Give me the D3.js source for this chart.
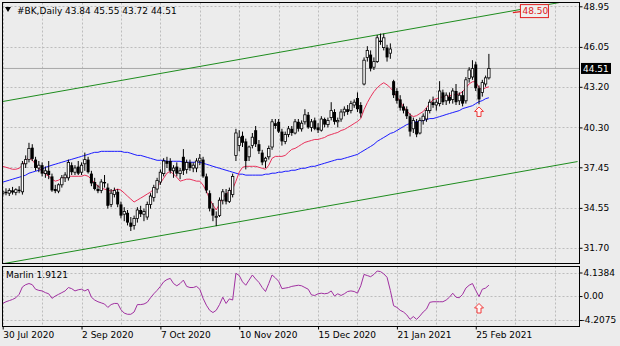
<!DOCTYPE html>
<html><head><meta charset="utf-8">
<script src="https://cdn.jsdelivr.net/npm/d3@7"></script>
<style>html,body{margin:0;padding:0;background:#ececec;overflow:hidden}svg{display:block;font-family:"DejaVu Sans",sans-serif}</style>
</head><body><svg id="c" width="620" height="346"></svg>
<script>
const open=[35.55,35.70,35.60,35.80,35.65,35.85,35.70,37.70,38.00,38.85,38.00,37.40,37.60,37.00,37.20,36.80,35.90,35.75,36.20,36.70,36.70,37.60,37.10,37.50,37.10,37.70,38.00,37.00,36.40,35.90,35.80,36.40,36.00,34.80,35.50,35.70,34.80,34.10,34.20,33.50,33.30,33.80,34.40,34.10,33.90,34.80,35.30,35.90,36.40,37.00,37.90,37.90,37.20,37.50,37.00,38.20,37.30,37.80,37.40,37.40,37.90,38.00,36.80,35.60,34.50,33.90,34.00,35.10,35.60,35.00,35.50,38.30,39.00,39.70,39.30,38.20,39.00,40.10,39.10,38.50,37.90,38.20,38.90,40.60,40.70,40.00,39.30,39.80,40.20,39.90,40.70,40.20,40.70,41.20,40.30,40.80,40.30,40.10,40.90,40.50,41.00,41.40,40.70,40.90,41.40,41.60,41.50,41.90,42.40,41.90,43.40,45.30,45.50,44.60,45.00,46.50,46.00,46.00,45.60,43.60,42.90,42.30,41.80,41.60,41.10,40.20,40.70,39.90,40.80,40.90,41.50,42.10,41.90,42.00,42.80,42.20,42.50,42.30,42.90,42.20,42.60,42.20,43.80,43.90,44.80,43.10,42.80,43.40,43.84];
const high=[35.85,35.95,35.95,36.05,35.95,36.10,37.90,38.30,39.20,39.10,38.20,37.90,37.80,37.50,37.90,37.00,36.20,36.30,36.90,37.10,38.00,37.80,37.60,37.90,37.80,38.50,38.20,37.20,36.70,36.20,36.60,36.90,36.30,35.90,36.00,35.90,35.00,34.60,34.40,33.90,34.00,34.60,34.70,34.50,35.00,35.60,36.20,36.70,37.30,38.10,38.20,38.10,37.60,37.80,37.40,38.75,38.00,38.00,37.80,38.10,38.40,38.20,37.00,35.80,34.90,34.30,35.30,35.90,35.90,36.00,37.00,40.20,40.10,40.00,39.50,39.00,39.90,40.40,39.40,38.70,38.20,39.00,40.90,40.90,40.90,40.20,40.00,40.40,40.40,40.90,40.90,40.80,41.60,41.40,40.90,41.00,40.60,41.10,41.00,41.00,42.10,41.60,41.00,41.60,41.80,41.90,42.20,42.30,42.80,42.10,45.30,46.10,45.80,45.30,46.90,47.00,47.00,46.20,46.30,43.70,43.10,42.60,42.00,41.80,41.30,41.00,40.90,41.00,41.30,41.70,42.30,42.50,42.30,43.60,43.00,42.80,42.80,43.10,43.40,42.80,42.90,43.90,44.60,45.10,45.00,43.30,43.70,44.00,45.55];
const low=[35.30,35.45,35.40,35.50,35.45,35.60,35.50,37.40,37.80,37.90,37.20,37.10,36.80,36.70,36.60,35.70,35.60,35.60,36.00,36.40,36.50,36.90,36.90,36.90,36.90,37.20,37.00,36.10,35.80,35.60,35.60,36.00,34.50,34.60,35.30,34.60,33.80,33.60,33.30,32.90,33.00,33.50,33.90,33.60,33.70,34.50,35.00,35.60,36.20,36.80,37.40,37.00,36.70,36.80,36.60,36.90,37.00,37.20,37.10,37.10,37.60,36.70,35.60,34.30,33.60,33.25,33.90,34.80,34.80,34.90,35.30,37.90,38.60,38.90,37.30,37.90,38.80,38.90,38.40,37.60,37.40,38.00,38.70,40.20,39.90,39.00,39.10,39.60,39.70,39.80,40.00,40.00,40.50,40.20,40.00,40.10,39.90,40.00,40.30,40.30,40.80,40.50,40.30,40.70,41.10,41.20,41.30,41.70,41.40,41.00,43.30,45.00,44.30,44.40,44.90,46.20,45.80,45.00,45.20,42.40,42.00,41.50,41.30,40.90,39.65,39.90,39.60,39.80,40.50,40.70,41.30,41.70,41.50,41.80,41.90,41.90,42.00,42.00,41.90,41.90,41.80,42.00,43.50,43.70,42.90,41.95,42.50,43.20,43.72];
const close=[35.70,35.60,35.80,35.65,35.85,35.75,37.70,38.00,38.80,38.05,37.40,37.60,37.00,37.20,36.90,35.80,35.75,36.20,36.70,36.90,37.80,37.10,37.40,37.00,37.60,38.00,37.10,36.30,35.90,35.75,36.40,36.30,34.70,35.60,35.80,34.80,34.00,34.30,33.50,33.20,33.80,34.40,34.10,34.30,34.80,35.40,36.00,36.50,37.10,37.90,37.70,37.20,37.40,37.00,37.20,37.20,37.80,37.40,37.60,37.90,38.10,36.80,35.80,34.50,34.00,33.95,35.10,35.70,35.00,35.80,36.80,39.90,39.60,39.20,37.90,38.90,39.60,39.10,38.60,37.80,38.10,38.80,40.70,40.40,40.00,39.30,39.80,40.20,39.90,40.70,40.20,40.60,41.20,40.30,40.70,40.20,40.10,40.90,40.50,40.80,41.50,40.70,40.80,41.40,41.60,41.40,42.00,42.10,41.60,41.30,45.10,45.80,44.50,45.00,46.70,46.40,46.70,45.30,45.90,42.60,42.20,41.70,41.50,41.10,40.00,40.80,39.80,40.80,41.10,41.50,42.10,41.90,42.10,42.90,42.10,42.60,42.20,42.90,42.10,42.60,42.00,43.70,44.40,44.50,43.10,42.30,43.50,43.84,44.51];
const maFast=[37.52,37.45,37.38,37.31,37.31,37.38,37.60,37.95,38.16,37.95,37.67,37.38,37.17,36.96,36.81,36.60,36.46,36.53,36.67,36.74,36.81,36.81,36.81,36.81,36.81,36.89,36.81,36.60,36.32,36.10,35.96,35.89,35.82,35.75,35.82,35.89,35.82,35.61,35.39,35.18,34.97,35.11,35.25,35.39,35.54,35.68,35.89,36.10,36.32,36.67,37.03,37.17,36.96,36.74,36.46,36.53,36.60,36.60,36.53,36.46,36.46,36.18,35.75,35.18,34.76,34.40,34.83,35.25,35.54,35.75,35.89,36.46,37.10,37.45,37.52,37.52,37.52,37.52,37.45,37.38,37.31,37.60,38.09,38.23,38.23,38.23,38.30,38.52,38.73,38.80,38.94,39.09,39.23,39.30,39.37,39.44,39.44,39.51,39.58,39.72,39.79,39.87,39.94,40.08,40.15,40.29,40.43,40.58,40.72,40.93,41.57,42.07,42.49,42.85,43.13,43.34,43.49,43.34,43.13,42.85,42.49,42.14,41.78,41.50,41.22,41.07,41.14,41.29,41.43,41.71,42.00,42.28,42.35,42.42,42.49,42.49,42.56,42.63,42.63,42.70,42.85,43.13,43.41,43.56,43.56,43.13,42.99,43.13,43.20];
const maSlow=[36.39,36.46,36.53,36.60,36.67,36.74,36.81,36.89,37.03,37.10,37.17,37.24,37.31,37.45,37.52,37.60,37.67,37.74,37.81,37.88,37.95,38.02,38.09,38.16,38.23,38.30,38.37,38.45,38.52,38.52,38.59,38.59,38.59,38.59,38.59,38.59,38.59,38.52,38.52,38.45,38.37,38.30,38.30,38.23,38.16,38.09,38.02,37.95,37.95,37.95,37.88,37.88,37.88,37.88,37.88,37.81,37.81,37.81,37.81,37.81,37.81,37.74,37.67,37.60,37.52,37.45,37.38,37.31,37.24,37.17,37.10,37.03,36.96,36.96,36.89,36.89,36.89,36.89,36.89,36.89,36.96,36.96,37.03,37.03,37.10,37.10,37.17,37.17,37.24,37.24,37.31,37.38,37.38,37.45,37.52,37.52,37.60,37.67,37.74,37.81,37.88,37.95,38.02,38.02,38.09,38.16,38.23,38.30,38.37,38.52,38.66,38.80,38.94,39.09,39.30,39.44,39.58,39.72,39.87,39.94,40.08,40.22,40.36,40.50,40.58,40.65,40.72,40.72,40.79,40.86,40.93,40.93,41.00,41.07,41.14,41.22,41.29,41.36,41.43,41.50,41.64,41.71,41.78,41.85,42.00,42.14,42.21,42.35,42.42];
const marlin=[-1.3,-1.0,-0.8,-0.6,-0.3,0.3,1.6,2.0,2.2,2.0,1.2,1.0,0.9,0.6,0.4,-0.4,0.0,0.3,0.6,0.9,1.5,1.3,0.9,1.1,1.2,0.9,1.2,-0.2,-0.7,-1.0,-1.2,-1.4,-2.0,-1.5,-1.3,-1.3,-2.4,-3.0,-3.2,-3.2,-2.8,-1.5,-1.5,-1.4,-1.1,-0.3,0.4,1.0,1.7,2.5,2.9,3.1,2.2,1.8,2.2,2.8,1.7,1.5,1.5,1.7,1.2,-0.4,-1.6,-2.5,-2.9,-2.5,-1.5,-0.2,-1.3,-0.5,-0.7,4.0,3.6,2.5,1.9,2.8,3.7,3.0,2.4,1.5,0.8,2.2,3.7,3.2,2.6,1.3,1.4,1.5,1.7,1.8,1.9,1.8,1.5,1.2,0.2,0.1,0.4,0.5,0.4,0.5,0.9,0.0,0.4,0.1,0.4,0.8,0.9,0.8,0.5,1.8,3.8,3.6,3.4,3.8,4.4,4.3,3.9,3.3,1.0,-1.7,-2.0,-2.5,-2.8,-3.3,-4.1,-3.6,-4.1,-3.5,-2.8,-2.3,-1.1,-1.0,-1.0,-1.0,-1.0,-0.7,-0.2,0.5,-0.2,-0.3,0.3,1.4,1.9,2.2,1.0,-0.1,1.2,1.4,1.9121];
const dateTickIdx=[0,24,48,72,96,120,144];
const dateTickLabels=["30 Jul 2020","2 Sep 2020","7 Oct 2020","10 Nov 2020","15 Dec 2020","21 Jan 2021","25 Feb 2021"];
const gridIdx=[0,12,24,36,48,60,72,84,96,108,120,132,144,156,168];
const priceTicks=[48.95,46.05,43.20,40.30,37.45,34.55,31.70];
const marlinTicks=[4.1384,0,-4.2075];
const marlinTickLabels=["4.1384","0.00","-4.2075"];
const channelUpper=[[0,42.15],[175,49.45]];
const channelLower=[[0,30.56],[175,37.86]];
const signalArrows=[{i:145,price:41.76,osc:-1.31}];
const priceLabel={i1:155.3,i2:157.6,price:48.50,text:"48.50"};
const title="#BK,Daily", ohlcText="43.84 45.55 43.72 44.51", oscName="Marlin 1.9121";

const svg=d3.select("#c");
const PL=2.5,PR=579.5,MT=2.5,MB=263.5,IT=266.5,IB=326.5;
const x=d3.scaleLinear().domain([0,175]).range([2.7,2.7+175*3.285]);
const y=d3.scaleLinear().domain([48.95,31.70]).range([6.3,247.8]);
const ym=d3.scaleLinear().domain([4.1384,-4.2075]).range([272.5,320]);
const gridCol="#bdbdbd";

svg.append("rect").attr("width",620).attr("height",346).attr("fill","#ececec");
const defs=svg.append("defs");
defs.append("clipPath").attr("id","cm").append("rect").attr("x",PL).attr("y",MT).attr("width",PR-PL).attr("height",MB-MT);
defs.append("clipPath").attr("id","ci").append("rect").attr("x",PL).attr("y",IT).attr("width",PR-PL).attr("height",IB-IT);

// grids
const gm=svg.append("g").attr("clip-path","url(#cm)");
const gi=svg.append("g").attr("clip-path","url(#ci)");
gridIdx.forEach(i=>{
  const xx=Math.round(x(i))+0.5;
  gm.append("line").attr("x1",xx).attr("x2",xx).attr("y1",MT).attr("y2",MB).attr("stroke",gridCol).attr("stroke-dasharray","2,2");
  gi.append("line").attr("x1",xx).attr("x2",xx).attr("y1",IT).attr("y2",IB).attr("stroke",gridCol).attr("stroke-dasharray","2,2");
});
priceTicks.forEach(p=>{
  const yy=Math.round(y(p))+0.5;
  gm.append("line").attr("x1",PL).attr("x2",PR).attr("y1",yy).attr("y2",yy).attr("stroke",gridCol).attr("stroke-dasharray","2,2");
});
marlinTicks.forEach(v=>{
  const yy=Math.round(ym(v))+0.5;
  gi.append("line").attr("x1",PL).attr("x2",PR).attr("y1",yy).attr("y2",yy).attr("stroke",gridCol).attr("stroke-dasharray","2,2");
});

// bid line
const lastClose=close[close.length-1];
gm.append("line").attr("x1",PL).attr("x2",PR).attr("y1",y(lastClose)).attr("y2",y(lastClose)).attr("stroke","#a8a8a8");

// channel
[channelUpper,channelLower].forEach(c=>{
  gm.append("line").attr("x1",x(c[0][0])).attr("y1",y(c[0][1])).attr("x2",x(c[1][0])).attr("y2",y(c[1][1])).attr("stroke","#1e8c1e").attr("stroke-width",1);
});

// MAs
const idx=d3.range(close.length);
const line=(arr)=>d3.line().x(i=>x(i)).y(i=>y(arr[i]))(idx);
gm.append("path").attr("d",line(maSlow)).attr("fill","none").attr("stroke","#1a1aff").attr("stroke-width",1);
gm.append("path").attr("d",line(maFast)).attr("fill","none").attr("stroke","#e8305a").attr("stroke-width",1);

// candles
const cg=gm.append("g");
idx.forEach(i=>{
  const cx=x(i);
  cg.append("line").attr("x1",cx).attr("x2",cx).attr("y1",y(high[i])).attr("y2",y(low[i])).attr("stroke","#000").attr("stroke-width",1);
  const o=y(open[i]),c=y(close[i]);
  const top=Math.min(o,c),h=Math.max(1,Math.abs(o-c));
  if(close[i]>=open[i]){
    cg.append("rect").attr("x",cx-1.2).attr("y",top).attr("width",2.4).attr("height",h).attr("fill","#fff").attr("stroke","#000").attr("stroke-width",0.8);
  } else {
    cg.append("rect").attr("x",cx-1.5).attr("y",top).attr("width",3).attr("height",h).attr("fill","#000");
  }
});

// arrows
const arrowPath="M0,0 L4.5,4.5 L2,4.5 L2,9.5 L-2,9.5 L-2,4.5 L-4.5,4.5 Z";
signalArrows.forEach(a=>{
  svg.append("path").attr("d",arrowPath).attr("transform",`translate(${x(a.i)},${y(a.price)})`).attr("fill","#fff4f4").attr("stroke","#f03a3a").attr("stroke-width",1);
  svg.append("path").attr("d",arrowPath).attr("transform",`translate(${x(a.i)},${ym(a.osc)})`).attr("fill","#fff4f4").attr("stroke","#f03a3a").attr("stroke-width",1);
});

// marlin line
gi.append("path").attr("d",d3.line().x(i=>x(i)).y(i=>ym(marlin[i]))(idx)).attr("fill","none").attr("stroke","#a030a0").attr("stroke-width",1);

// frames
svg.append("rect").attr("x",PL).attr("y",MT).attr("width",PR-PL).attr("height",MB-MT).attr("fill","none").attr("stroke","#000");
svg.append("rect").attr("x",PL).attr("y",IT).attr("width",PR-PL).attr("height",IB-IT).attr("fill","none").attr("stroke","#000");

// axes
const fmt=d3.format(".2f");
const ax=svg.append("g").attr("transform",`translate(${PR},0)`).call(d3.axisRight(y).tickValues(priceTicks).tickFormat(fmt).tickSize(3).tickPadding(1));
const ax2=svg.append("g").attr("transform",`translate(${PR},0)`).call(d3.axisRight(ym).tickValues(marlinTicks).tickFormat((d,k)=>marlinTickLabels[k]).tickSize(3).tickPadding(1));
const ax3=svg.append("g").attr("transform",`translate(0,${IB})`).call(d3.axisBottom(x).tickValues(dateTickIdx).tickFormat((d,k)=>dateTickLabels[k]).tickSize(3).tickPadding(2));
[ax,ax2,ax3].forEach(a=>{a.select(".domain").remove();a.selectAll("text").attr("font-size",9).attr("font-family","DejaVu Sans").attr("fill","#000");a.selectAll("line").attr("stroke","#000");});
ax3.selectAll("text").attr("text-anchor","start");
ax2.selectAll("text").filter((d)=>d<0).attr("dx",-2);

// last price label
const ly=y(lastClose);
svg.append("rect").attr("x",581).attr("y",ly-5.5).attr("width",30).attr("height",11).attr("fill","#000");
svg.append("text").attr("x",583).attr("y",ly).attr("dy","0.35em").attr("font-size",9).attr("fill","#fff").text(fmt(lastClose));

// red price label
const py=y(priceLabel.price);
svg.append("line").attr("x1",x(priceLabel.i1)).attr("x2",x(priceLabel.i2)).attr("y1",py).attr("y2",py-1).attr("stroke","#e02020").attr("stroke-width",1.2);
svg.append("rect").attr("x",x(priceLabel.i2)).attr("y",py-8).attr("width",28).attr("height",13).attr("fill","#efefef").attr("stroke","#e02020");
svg.append("text").attr("x",x(priceLabel.i2)+2).attr("y",py-1.5).attr("dy","0.35em").attr("font-size",9).attr("fill","#e02020").text(priceLabel.text);

// titles
svg.append("path").attr("d","M5,7 L11,7 L8,12 Z").attr("fill","#000");
svg.append("text").attr("x",17).attr("y",13.5).attr("font-size",9).attr("fill","#000").text(title);
svg.append("text").attr("x",65).attr("y",13.5).attr("font-size",9).attr("fill","#000").text(ohlcText);
svg.append("text").attr("x",6).attr("y",277.5).attr("font-size",9).attr("fill","#000").text(oscName);
</script></body></html>
